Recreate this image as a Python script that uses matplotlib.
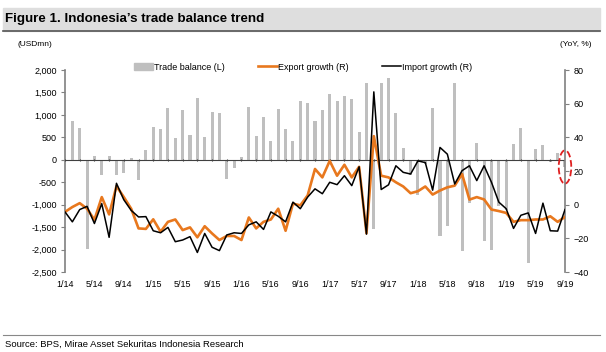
import numpy as np
import matplotlib.pyplot as plt
from matplotlib.patches import Patch, Ellipse, Rectangle
from matplotlib.lines import Line2D

plt.rcParams['font.family'] = ['Liberation Sans', 'DejaVu Sans']

# monthly, Jan 2014 .. Sep 2019
trade_balance = [np.nan, 870, 700, -1980, 90, -350, 75, -350, -300, 50, -460, 220,
                 720, 690, 1160, 490, 1110, 560, 1370, 500, 1060, 1050, -430, -185,
                 60, 1170, 530, 950, 420, 1140, 680, 410, 1320, 1270, 870, 1100,
                 1460, 1300, 1430, 1350, 610, 1700, -1540, 1720, 1830, 1050, 260, -330,
                 -780, -100, 1160, -1690, -1480, 1700, -2035, -960, 380, -1800, -2020, -1040,
                 -1110, 350, 700, -2310, 240, 330, -60, 140, -160]

export_growth = [-4.3, -1.4, 0.9, -2.4, -9.0, 4.5, -5.8, 11.0, 4.5, -2.4, -14.1, -14.4,
                 -8.7, -16.1, -10.2, -8.8, -15.1, -13.5, -19.4, -12.8, -17.1, -21.0, -18.6, -18.6,
                 -21.0, -7.6, -14.1, -10.2, -8.8, -2.4, -15.5, 0.6, -0.4, 5.5, 21.2, 16.2,
                 26.0, 17.2, 23.7, 16.2, 22.5, -17.0, 40.7, 17.2, 16.2, 13.3, 10.8, 6.8,
                 8.0, 10.8, 6.0, 8.4, 10.3, 11.3, 18.2, 3.0, 4.5, 3.1, -2.9, -3.8,
                 -4.9, -10.2, -9.2, -9.2, -8.8, -8.8, -6.9, -10.2, -7.3]

import_growth = [-4.3, -10.2, -2.9, -1.0, -11.2, 0.6, -19.4, 12.7, 2.9, -3.4, -7.3, -7.1,
                 -15.5, -16.7, -13.5, -22.0, -21.0, -19.0, -28.4, -17.1, -25.3, -27.3, -18.0, -16.7,
                 -17.1, -12.0, -10.2, -14.7, -4.3, -6.9, -10.2, 1.5, -2.4, 4.5, 9.4, 6.5,
                 13.3, 11.9, 17.2, 11.3, 22.5, -17.5, 67.0, 9.0, 11.8, 23.1, 19.2, 18.2,
                 26.0, 25.0, 8.6, 34.0, 30.0, 12.3, 20.2, 23.1, 14.3, 23.1, 13.3, 1.5,
                 -2.4, -14.1, -6.3, -4.9, -17.1, 0.9, -15.5, -15.7, -2.9]

tick_labels = ['1/14', '5/14', '9/14', '1/15', '5/15', '9/15', '1/16', '5/16', '9/16',
               '1/17', '5/17', '9/17', '1/18', '5/18', '9/18', '1/19', '5/19', '9/19']

x = np.arange(len(export_growth))
gray = '#bfbfbf'
orange = '#e8781e'
axis_col = '#808080'

fig = plt.figure(figsize=(6.06, 3.52), dpi=100)
ax = fig.add_axes([65/606, 1-272/352, 500/606, 202/352])
ax2 = ax.twinx()

ax.bar(x, trade_balance, width=0.42, color=gray, zorder=2)
ax.axhline(0, color='#404040', lw=0.8, zorder=3)
ax.set_xlim(0, 68)
ax.set_ylim(-2500, 2000)
ax.set_yticks(np.arange(-2500, 2001, 500))
ax.yaxis.set_major_formatter(plt.FuncFormatter(lambda v, p: f'{int(v):,}'))

ax2.plot(x, export_growth, color=orange, lw=1.9, zorder=4)
ax2.plot(x, import_growth, color='black', lw=1.1, zorder=5)
ax2.set_ylim(-40, 80)
ax2.set_yticks(np.arange(-40, 81, 20))

for a in (ax, ax2):
    a.spines['top'].set_visible(False)
    a.spines['bottom'].set_visible(False)
    a.tick_params(axis='y', labelsize=6.5, length=3, width=0.8, color=axis_col, pad=3)
ax.spines['right'].set_visible(False)
ax2.spines['left'].set_visible(False)
ax.spines['left'].set_color(axis_col)
ax2.spines['right'].set_color(axis_col)
ax.spines['left'].set_linewidth(1.2)
ax2.spines['right'].set_linewidth(1.2)

# category ticks on the zero line, labels below the plot
ax.set_xticks(x[::2])
ax.tick_params(axis='x', labelbottom=False, length=0)
ax.vlines(x[::2], -25, 25, color='#404040', lw=0.8, zorder=3)
sec = ax.secondary_xaxis('bottom')
sec.set_xticks(x[::4])
sec.set_xticklabels(tick_labels)
sec.tick_params(length=0, labelsize=6.5, pad=6)
sec.spines['bottom'].set_visible(False)

# red dashed ellipse around the latest point
ax.add_patch(Ellipse((68, -160), 1.7, 740, fill=False, ec='#e02020', ls='--', lw=1.3,
                     clip_on=False, zorder=6))

handles = [Patch(color=gray), Line2D([], [], color=orange, lw=1.9),
           Line2D([], [], color='black', lw=1.1)]
fig.legend(handles, ['Trade balance (L)', 'Export growth (R)', 'Import growth (R)'],
           loc='center', bbox_to_anchor=(0.50, 1-67/352), ncol=3, frameon=False,
           fontsize=6.5, handlelength=2.2, handleheight=0.9, columnspacing=3.6, handletextpad=0.1)

# title band and footer
fig.patches.append(Rectangle((3/606, 1-31/352), 597/606, 23/352, transform=fig.transFigure,
                             color='#dedede', zorder=0))
fig.add_artist(Line2D([3/606, 600/606], [1-31/352, 1-31/352], color='#555555', lw=1.2))
fig.text(5/606, 1-19/352, 'Figure 1. Indonesia\u2019s trade balance trend', fontsize=9.6,
         fontweight='bold', va='center', ha='left')
fig.text(18/606, 1-45/352, '(USDmn)', fontsize=6, va='center')
fig.text(592/606, 1-45/352, '(YoY, %)', fontsize=6, va='center', ha='right')
fig.add_artist(Line2D([3/606, 600/606], [1-335/352, 1-335/352], color='#888888', lw=0.8))
fig.text(5/606, 1-344/352, 'Source: BPS, Mirae Asset Sekuritas Indonesia Research', fontsize=6.8,
         va='center', ha='left')

plt.savefig('out.png', dpi=100)
